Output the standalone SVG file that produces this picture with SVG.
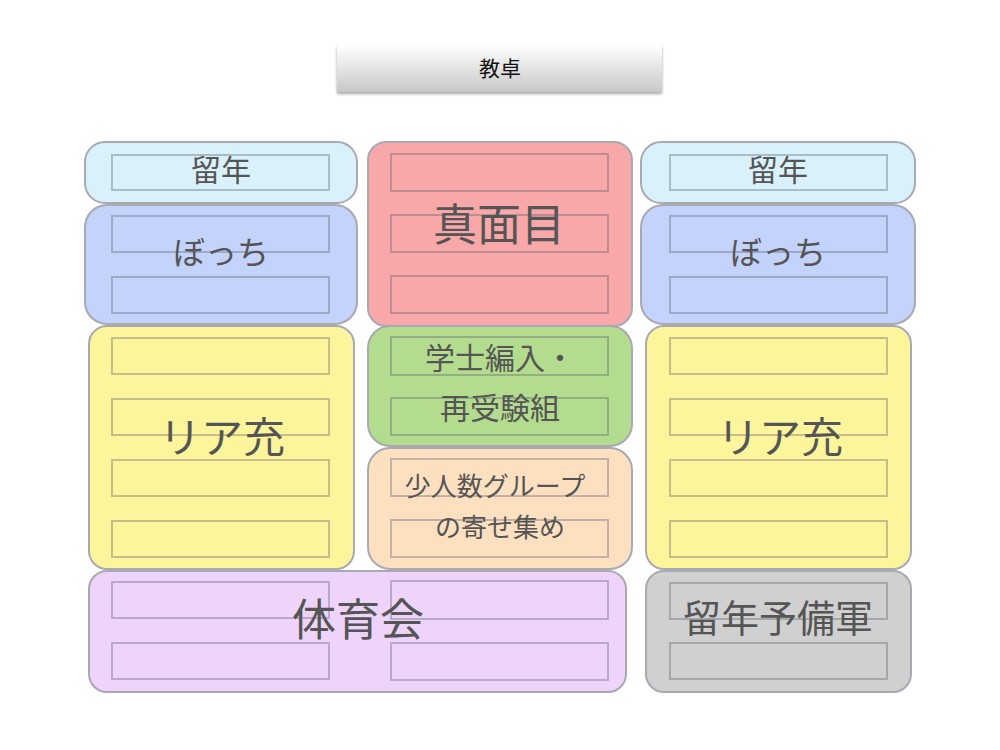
<svg xmlns="http://www.w3.org/2000/svg" width="1000" height="750" viewBox="0 0 1000 750">
<style>
.box{stroke:#a9a9b2;stroke-width:2}
.in{fill:none;stroke:#5a5a6e;stroke-opacity:0.35;stroke-width:2}
.t{font-family:"Noto Sans CJK JP","Noto Sans",sans-serif;fill:#555;text-anchor:middle;dominant-baseline:central}
</style>
<defs>
<linearGradient id="pod" x1="0" y1="0" x2="0" y2="1">
<stop offset="0" stop-color="#ffffff"/>
<stop offset="1" stop-color="#c8c8c8"/>
</linearGradient>
<filter id="sh" x="-5%" y="-20%" width="110%" height="160%">
<feDropShadow dx="0" dy="2" stdDeviation="1.5" flood-color="#000" flood-opacity="0.35"/>
</filter>
</defs>
<rect width="1000" height="750" fill="#fff"/>
<g id="podium">
<rect x="337" y="45" width="325" height="47" fill="url(#pod)" filter="url(#sh)"/>
<text class="t" x="500" y="67" style="fill:#111;font-size:21px">教卓</text>
</g>
<g id="ryunen-left">
<rect class="box" x="85" y="142" width="272" height="61" rx="20" fill="#d8f1fb"/>
<rect class="in" x="112" y="155" width="217" height="35"/>
<text class="t" x="221" y="168" font-size="30">留年</text>
</g>
<g id="bocchi-left">
<rect class="box" x="85" y="205" width="272" height="119" rx="22" fill="#c3d3fb"/>
<rect class="in" x="112" y="216" width="217" height="36"/>
<rect class="in" x="112" y="277" width="217" height="36"/>
<text class="t" x="221" y="250" font-size="32">ぼっち</text>
</g>
<g id="riajuu-left">
<rect class="box" x="89" y="326" width="265" height="243" rx="18" fill="#fdf59c"/>
<rect class="in" x="112" y="338" width="217" height="36"/>
<rect class="in" x="112" y="399" width="217" height="36"/>
<rect class="in" x="112" y="460" width="217" height="36"/>
<rect class="in" x="112" y="521" width="217" height="36"/>
<text class="t" x="222" y="434" font-size="42">リア充</text>
</g>
<g id="majime">
<rect class="box" x="368" y="142" width="264" height="184" rx="18" fill="#f8a8a8"/>
<rect class="in" x="391" y="154" width="217" height="37"/>
<rect class="in" x="391" y="215" width="217" height="37"/>
<rect class="in" x="391" y="276" width="217" height="37"/>
<text class="t" x="499" y="222" font-size="44">真面目</text>
</g>
<g id="gakushi">
<rect class="box" x="368" y="326" width="264" height="120" rx="22" fill="#b3dc8f"/>
<rect class="in" x="391" y="337" width="217" height="38"/>
<rect class="in" x="391" y="398" width="217" height="37"/>
<text class="t" x="500" y="356" font-size="30">学士編入・</text>
<text class="t" x="500" y="406" font-size="30">再受験組</text>
</g>
<g id="shoninzu">
<rect class="box" x="368" y="448" width="264" height="121" rx="22" fill="#fde0c0"/>
<rect class="in" x="391" y="459" width="217" height="37"/>
<rect class="in" x="391" y="520" width="217" height="37"/>
<text class="t" x="495" y="484" font-size="26">少人数グループ</text>
<text class="t" x="500" y="525" font-size="26">の寄せ集め</text>
</g>
<g id="ryunen-right">
<rect class="box" x="641" y="142" width="274" height="61" rx="20" fill="#d8f1fb"/>
<rect class="in" x="670" y="155" width="217" height="35"/>
<text class="t" x="778" y="168" font-size="30">留年</text>
</g>
<g id="bocchi-right">
<rect class="box" x="641" y="205" width="274" height="119" rx="22" fill="#c3d3fb"/>
<rect class="in" x="670" y="216" width="217" height="36"/>
<rect class="in" x="670" y="277" width="217" height="36"/>
<text class="t" x="778" y="250" font-size="32">ぼっち</text>
</g>
<g id="riajuu-right">
<rect class="box" x="646" y="326" width="265" height="243" rx="18" fill="#fdf59c"/>
<rect class="in" x="670" y="338" width="217" height="36"/>
<rect class="in" x="670" y="399" width="217" height="36"/>
<rect class="in" x="670" y="460" width="217" height="36"/>
<rect class="in" x="670" y="521" width="217" height="36"/>
<text class="t" x="780" y="434" font-size="42">リア充</text>
</g>
<g id="taiikukai">
<rect class="box" x="89" y="571" width="537" height="121" rx="18" fill="#eed4fb"/>
<rect class="in" x="112" y="582" width="217" height="36"/>
<rect class="in" x="112" y="643" width="217" height="36"/>
<rect class="in" x="391" y="581" width="217" height="38"/>
<rect class="in" x="391" y="643" width="217" height="37"/>
<text class="t" x="358" y="617" font-size="44">体育会</text>
</g>
<g id="ryunen-yobigun">
<rect class="box" x="646" y="571" width="265" height="121" rx="18" fill="#d0d0d0"/>
<rect class="in" x="670" y="583" width="217" height="36"/>
<rect class="in" x="670" y="643" width="217" height="36"/>
<text class="t" x="778" y="615" font-size="38">留年予備軍</text>
</g>
<g id="connectors"/>
</svg>
